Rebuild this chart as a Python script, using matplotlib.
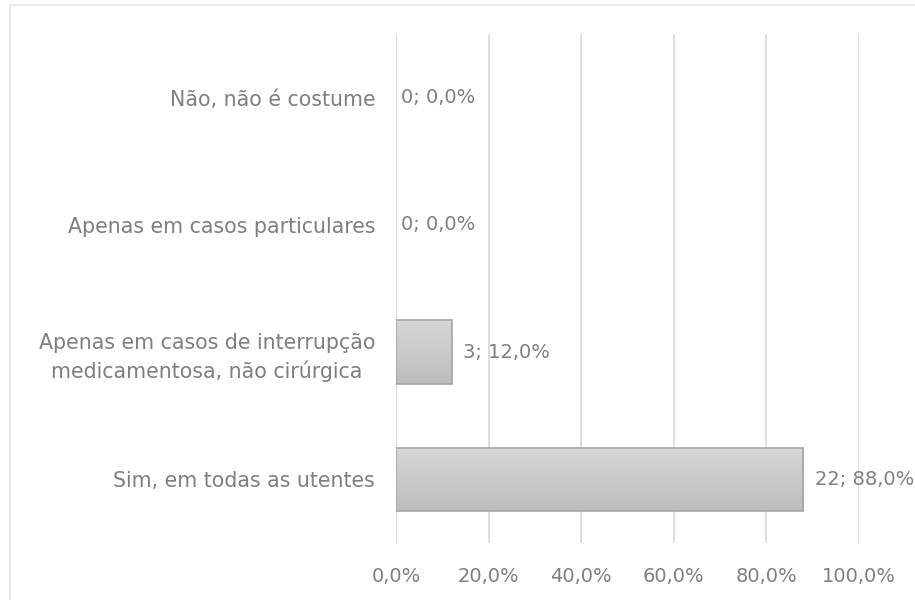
import matplotlib
matplotlib.use("Agg")
import matplotlib.pyplot as plt
import numpy as np
from matplotlib.patches import Rectangle
from matplotlib.colors import LinearSegmentedColormap

categories = ["Sim, em todas as utentes",
              "Apenas em casos de interrupção\nmedicamentosa, não cirúrgica",
              "Apenas em casos particulares",
              "Não, não é costume"]
counts = [22, 3, 0, 0]
percents = [88.0, 12.0, 0.0, 0.0]
xticks = [0, 20, 40, 60, 80, 100]

W, H = 915, 600
fig = plt.figure(figsize=(W/100, H/100), dpi=100)
txt = "#7f7f7f"
fs_cat = 14.8
fs = 14.0

# outer chart border (cut off at right/bottom)
fig.patches.append(Rectangle((10/W, -0.01), 1.0, (H-5)/H + 0.01, transform=fig.transFigure,
                             fill=False, edgecolor="#e6e6e6", linewidth=1.2))

ax = fig.add_axes([396/W, 1-543/H, (859-396)/W, (543-34)/H])
y = list(range(len(categories)))
bars = ax.barh(y, percents, height=0.5, color="#c9c9c9", edgecolor="#a5a5a5",
               linewidth=1.2, zorder=3)
cmap = LinearSegmentedColormap.from_list("g", ["#bdbdbd", "#d7d7d7"])
grad = np.linspace(0, 1, 100).reshape(-1, 1)
for b, p in zip(bars, percents):
    if p <= 0:
        b.set_linewidth(0)
        continue
    x0, y0 = b.get_x(), b.get_y()
    w, h = b.get_width(), b.get_height()
    im = ax.imshow(grad, cmap=cmap, aspect="auto", origin="lower",
                   extent=[x0, x0 + w, y0, y0 + h], zorder=3.5)
    im.set_clip_path(b)
    b.set_facecolor("none")
    b.set_zorder(4)

ax.set_xlim(0, 100)
ax.set_ylim(-0.5, len(categories)-0.5)
ax.set_xticks(xticks)
ax.set_xticklabels([f"{v:.1f}%".replace(".", ",") for v in xticks], color=txt, fontsize=fs)
ax.set_yticks(y)
ax.set_yticklabels(categories, color=txt, fontsize=fs_cat, linespacing=1.38)
ax.tick_params(axis="both", length=0)
ax.tick_params(axis="x", pad=17)
ax.tick_params(axis="y", pad=15)
for lab in ax.get_yticklabels():
    lab.set_horizontalalignment("right")
    lab.set_multialignment("center")
ax.grid(axis="x", color="#d9d9d9", linewidth=1.2, zorder=0)
for s in ax.spines.values():
    s.set_visible(False)
ax.axvline(0, color="#d9d9d9", linewidth=1.2, zorder=1)

for yi, c, p in zip(y, counts, percents):
    off = 1.0 if p <= 0 else 2.5
    ax.text(p + off, yi, f"{c}; {p:.1f}%".replace(".", ","), va="center", ha="left",
            color=txt, fontsize=fs, zorder=5, clip_on=False)

ax.set_aspect("auto")
fig.savefig("out.png", dpi=100, facecolor="white")
